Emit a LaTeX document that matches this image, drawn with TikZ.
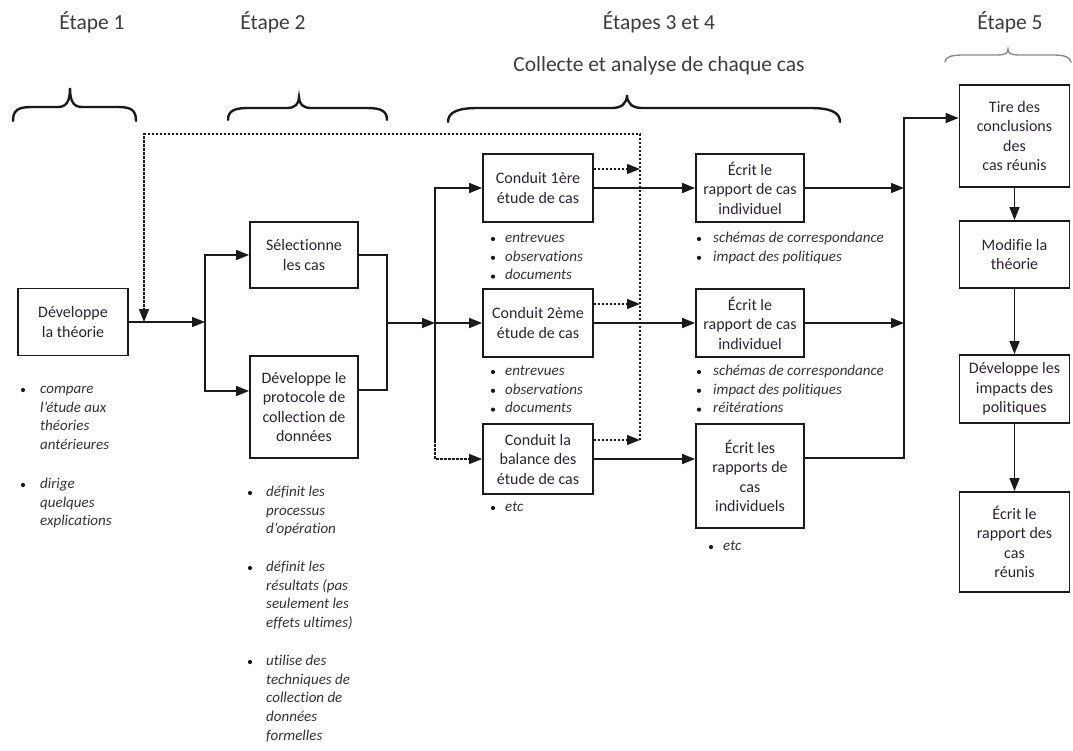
\documentclass[tikz,border=0pt]{standalone}
\usepackage{fontspec}
\setmainfont{Carlito}[Ligatures=CommonOff]
\usetikzlibrary{arrows.meta}
\definecolor{ink}{HTML}{1A1A1A}
\definecolor{boxtxt}{HTML}{2A2430}
\definecolor{notetxt}{HTML}{333333}
\definecolor{softbrace}{HTML}{8A8A8A}
\begin{document}
\begin{tikzpicture}[x=1pt,y=-1pt,
  box/.style={draw=ink, line width=1.8pt, minimum width=110pt, align=center, inner sep=2pt,
              font=\fontsize{16}{19.5}\selectfont, text=boxtxt},
  flow/.style={draw=ink, line width=1.6pt, -{Triangle[length=13pt,width=10pt]}},
  link/.style={draw=ink, line width=1.6pt},
  fb/.style={draw=ink, line width=1.3pt, dash pattern=on 2.5pt off 1.5pt},
  fbarrow/.style={fb, -{Triangle[length=13pt,width=10pt]}},
  brace/.style={draw=ink, line width=2.4pt, line cap=round},
  head/.style={font=\fontsize{21.5}{25}\selectfont, text=ink!85},
  note/.style={font=\fontsize{15}{18.8}\selectfont\itshape, text=notetxt, align=left,
               anchor=north west, inner sep=0pt},
  bul/.style={fill=ink}
]
\useasboundingbox (0,0) rectangle (1073,750);

% ---- stage headings
\node[head] (h1) at (92,22) {Étape 1};
\node[head] (h2) at (273,22) {Étape 2};
\node[head] (h3) at (659,22) {Étapes 3 et 4};
\node[head] (h3b) at (659,66) {Collecte et analyse de chaque cas};
\node[head] (h5) at (1010,22) {Étape 5};

% ---- braces
\draw[brace] (13,121) .. controls (13,110) and (18,107) .. (32,107) -- (58,107)
  .. controls (66,107) and (70,102) .. (70,88) .. controls (70,102) and (74,107) .. (82,107)
  -- (118,107) .. controls (131,107) and (136,110) .. (136,121);
\draw[brace] (228,120) .. controls (228,111) and (234,108) .. (248,108) -- (287,108)
  .. controls (295,108) and (299,104) .. (299,97) .. controls (299,104) and (303,108) .. (311,108)
  -- (367,108) .. controls (381,108) and (387,111) .. (387,120);
\draw[brace] (448,122) .. controls (448,112) and (458,108) .. (478,108) -- (612,108)
  .. controls (622,108) and (627,103) .. (627,95) .. controls (627,103) and (632,108) .. (642,108)
  -- (810,108) .. controls (830,108) and (840,112) .. (840,122);
\draw[draw=softbrace, line width=1.4pt, line cap=round] (945,62) .. controls (945,57) and (952,55) .. (962,55)
  -- (998,55) .. controls (1005,55) and (1008,53) .. (1008,49) .. controls (1008,53) and (1011,55) .. (1018,55)
  -- (1054,55) .. controls (1064,55) and (1070,57) .. (1071,62);

% ---- boxes
\node[box, minimum height=67pt] (theo) at (73,322) {Développe\\la théorie};
\node[box, minimum width=108pt, minimum height=66pt] (sel) at (304,255) {Sélectionne\\les cas};
\node[box, minimum width=108pt, minimum height=102pt] (proto) at (304,407) {Développe le\\protocole de\\collection de\\données};

\node[box, minimum height=68pt] (c1) at (538,188) {Conduit 1ère\\étude de cas};
\node[box, minimum height=68pt] (c2) at (538,323) {Conduit 2ème\\étude de cas};
\node[box, minimum height=70pt] (c3) at (538,459) {Conduit la\\balance des\\étude de cas};

\node[box, minimum width=108pt, minimum height=68pt] (e1) at (750,188) {Écrit le\\rapport de cas\\individuel};
\node[box, minimum width=108pt, minimum height=68pt] (e2) at (750,323) {Écrit le\\rapport de cas\\individuel};
\node[box, minimum width=108pt, minimum height=104pt] (e3) at (750,476) {Écrit les\\rapports de\\cas\\individuels};

\node[box, minimum height=102pt] (t1) at (1014.5,136) {Tire des\\conclusions\\des\\cas réunis};
\node[box, minimum height=67pt] (t2) at (1014.5,254.5) {Modifie la\\théorie};
\node[box, minimum height=68pt] (t3) at (1014.5,389) {Développe les\\impacts des\\politiques};
\node[box, minimum height=100pt] (t4) at (1014.5,542) {Écrit le\\rapport des\\cas\\réunis};

% ---- junction points
\coordinate (s1) at (205,322);
\coordinate (s2) at (387,323);
\coordinate (s3) at (435,323);
\coordinate (s4) at (435,440);
\coordinate (d1) at (640,169);
\coordinate (d2) at (640,304);
\coordinate (d3) at (640,440);
\coordinate (fbtop) at (640,134);
\coordinate (fbleft) at (144,134);
\coordinate (fbend) at (144,322);
\coordinate (rail) at (904,118);

% ---- stage 1 -> stage 2
\draw[flow] (theo.east) -- (s1);
\draw[flow] (s1) |- (sel.west);
\draw[flow] (s1) |- ([yshift=16pt]proto.west);
\draw[link] (sel.east) -| (s2);
\draw[link] ([yshift=17pt]proto.east) -| (s2);
\draw[flow] (s2) -- (s3);

% ---- stage 2 -> case studies
\draw[flow] (s3) |- (c1.west);
\draw[flow] (s3) -- (c2.west);
\draw[link] (s3) -- (s4);
\draw[fbarrow] (s4) |- (c3.west);

% ---- feedback loop to the theory
\draw[fbarrow] (c1.east |- d1) -- (d1);
\draw[fbarrow] (c2.east |- d2) -- (d2);
\draw[fbarrow] (c3.east |- d3) -- (d3);
\draw[fbarrow] (d3) -- (fbtop) -- (fbleft) -- (fbend);

% ---- case studies -> reports
\draw[flow] (c1.east) -- (e1.west);
\draw[flow] (c2.east) -- (e2.west);
\draw[flow] (c3.east) -- (c3.east -| e3.west);

% ---- reports -> cross-case conclusions
\draw[flow] (e1.east) -- (e1.east -| rail);
\draw[flow] (e2.east) -- (e2.east -| rail);
\draw[flow] ([yshift=18pt]e3.east) -| (rail) -- (t1.west |- rail);

% ---- stage 5 chain
\draw[flow] (t1) -- (t2);
\draw[flow] (t2) -- (t3);
\draw[flow] (t3) -- (t4);

% ---- notes, stage 1
\fill[bul] (23,390) circle (2.1);
\node[note] (n1a) at (40,380) {\strut compare\\l'étude aux\\théories\\antérieures};
\fill[bul] (23,485) circle (2.1);
\node[note] (n1b) at (40,475) {\strut dirige\\quelques\\explications};

% ---- notes, stage 2
\fill[bul] (250,493) circle (2.1);
\node[note] (n2a) at (266,483) {\strut définit les\\processus\\d'opération};
\fill[bul] (250,568) circle (2.1);
\node[note] (n2b) at (266,558) {\strut définit les\\résultats (pas\\seulement les\\effets ultimes)};
\fill[bul] (250,662) circle (2.1);
\node[note] (n2c) at (266,652) {\strut utilise des\\techniques de\\collection de\\données\\formelles};

% ---- notes, case studies
\foreach \yy in {239,257.8,276.6,372,390.8,409.6} \fill[bul] (493,\yy) circle (2.1);
\node[note] (n3a) at (505,229) {\strut entrevues\\observations\\documents};
\node[note] (n3b) at (505,362) {\strut entrevues\\observations\\documents};
\fill[bul] (493,508) circle (2.1);
\node[note] (n3c) at (505,498) {\strut etc};

% ---- notes, reports
\foreach \yy in {239,257.8,372,390.8,409.6} \fill[bul] (699,\yy) circle (2.1);
\node[note] (n4a) at (713,229) {\strut schémas de correspondance\\impact des politiques};
\node[note] (n4b) at (713,362) {\strut schémas de correspondance\\impact des politiques\\réitérations};
\fill[bul] (711,547) circle (2.1);
\node[note] (n4c) at (723,537) {\strut etc};
\end{tikzpicture}
\end{document}
